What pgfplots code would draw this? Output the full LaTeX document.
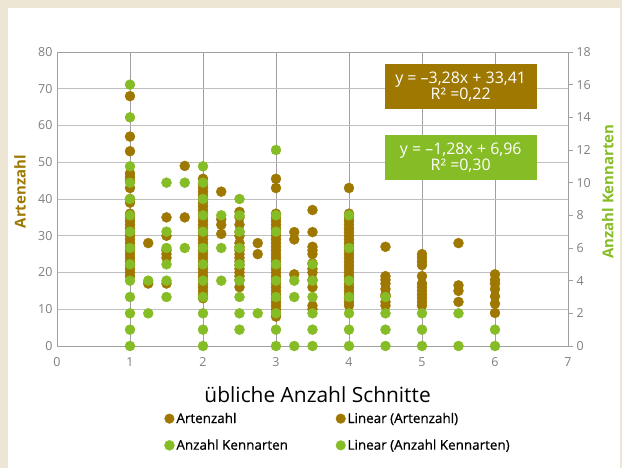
\documentclass[border=0pt]{standalone}
\usepackage{pgfplots}
\pgfplotsset{compat=1.18}
\usepackage{fontspec}
\setmainfont{Open Sans}
\newfontfamily\legfont[FakeBold=0.6]{Open Sans}
\definecolor{brn}{HTML}{9E7800}
\definecolor{grn}{HTML}{86BC25}
\definecolor{beige}{HTML}{EEE6D4}
\definecolor{tickgray}{HTML}{7F7F7F}
\definecolor{gridh}{HTML}{C0C0C0}
\definecolor{gridv}{HTML}{A0A0A0}
\begin{document}
\begin{tikzpicture}
\fill[beige] (0bp,0bp) rectangle (622bp,468bp);
\fill[white] (8bp,0bp) rectangle (620bp,460bp);
\begin{axis}[
  name=ax1,
  at={(57bp,122bp)}, anchor=south west, scale only axis,
  width=511bp, height=294bp,
  xmin=0, xmax=7, ymin=0, ymax=80,
  xtick={0,...,7}, ytick={0,10,...,80},
  xmajorgrids, ymajorgrids,
  x grid style={draw=gridv, line width=0.8pt},
  y grid style={draw=gridh, line width=0.8pt},
  axis line style={draw=gridv, line width=0.8pt},
  major tick length=0pt,
  ticklabel style={font=\fontsize{12.5}{14}\selectfont, text=tickgray},
  /pgf/number format/assume math mode=true,
  xticklabel style={yshift=-8bp},
  yticklabel style={xshift=-1bp},
  ylabel={Artenzahl},
  ylabel style={at={(axis description cs:-0.0724,0.525)}, anchor=center, font=\fontsize{15}{17}\selectfont\bfseries, text=brn},
  xlabel={übliche Anzahl Schnitte},
  xlabel style={at={(axis description cs:0.51,-0.167)}, anchor=center, font=\fontsize{21}{24}\selectfont},
  clip=false,
]
\addplot[only marks, mark=*, mark size=5bp, color=brn] coordinates {
(1,68)(1,57)(1,53)(1,47)(1,46)(1,45)(1,43)(1,40)(1,39)(1,36)(1,35)(1,34)(1,33)(1,32)(1,31)(1,30)(1,29)(1,28)(1,27)(1,26)(1,25)(1,24)(1,23)(1,22)(1,21)(1,20)(1,19)
(1.25,28)(1.25,17)
(1.5,35)(1.5,30)(1.5,26)(1.5,25)(1.5,24)(1.5,17)
(1.75,49)(1.75,35)
(2,45.5)(2,44)(2,43)(2,42)(2,41)(2,40)(2,39)(2,38)(2,37)(2,36)(2,35)(2,34)(2,33)(2,32)(2,31)(2,30)(2,29)(2,28)(2,27)(2,26)(2,25)(2,24)(2,23)(2,22)(2,21)(2,20)(2,19)(2,18)(2,17)(2,16)(2,15)(2,14)(2,13)
(2.25,42)(2.25,34.5)(2.25,33)(2.25,30.5)
(2.5,36.5)(2.5,35)(2.5,33)(2.5,31)(2.5,30)(2.5,28)(2.5,27)(2.5,26)(2.5,25)(2.5,24)(2.5,23)(2.5,22)(2.5,21)(2.5,20)(2.5,19)(2.5,18)(2.5,16)
(2.75,28)(2.75,25)
(3,45.5)(3,43)(3,36)(3,35)(3,34)(3,33)(3,32)(3,31)(3,30)(3,29)(3,28)(3,27)(3,26)(3,25)(3,24)(3,23)(3,22)(3,21)(3,20)(3,19)(3,18)(3,17)(3,16)(3,15)(3,14)(3,13)(3,12)(3,11)(3,10)(3,9)(3,8)
(3.25,31)(3.25,29)(3.25,19.5)
(3.5,37)(3.5,31)(3.5,27)(3.5,26)(3.5,25)(3.5,22.5)(3.5,21)(3.5,20)(3.5,18)(3.5,16)(3.5,11)(3.5,10)
(4,43)(4,36)(4,35)(4,34)(4,33)(4,32)(4,31)(4,30)(4,29)(4,28)(4,27)(4,26)(4,25)(4,24)(4,23)(4,22)(4,21)(4,20)(4,19)(4,18)(4,17)(4,16)(4,15)(4,14)(4,13)(4,12)(4,11)
(4.5,27)(4.5,19)(4.5,18)(4.5,17)(4.5,15.5)(4.5,14)(4.5,13.5)(4.5,12)(4.5,11)
(5,25)(5,24)(5,23)(5,22)(5,19)(5,17)(5,16)(5,15)(5,14)(5,13)(5,12)(5,11)
(5.5,28)(5.5,16.5)(5.5,15)(5.5,12)
(6,19.5)(6,18)(6,17)(6,15.5)(6,13.5)(6,11.5)(6,9)
};
\node[fill=brn, text=white, minimum width=152bp, minimum height=45bp, align=center, inner sep=0pt, font=\fontsize{16}{16}\selectfont] at (axis cs:5.53,70.6) {y = –3,28x + 33,41\\R² =0,22};
\node[fill=grn, text=white, minimum width=152bp, minimum height=45bp, align=center, inner sep=0pt, font=\fontsize{16}{16}\selectfont] at (axis cs:5.53,51.3) {y = –1,28x + 6,96\\R² =0,30};
\end{axis}
\begin{axis}[
  at={(ax1.south west)}, anchor=south west, scale only axis,
  width=511bp, height=294bp,
  xmin=0, xmax=7, ymin=0, ymax=18,
  ytick={0,2,...,18},
  hide x axis,
  axis y line*=right,
  y axis line style={draw=gridv, line width=0.8pt},
  ytick style={draw=gridv, line width=0.8pt},
  tick align=outside, major tick length=5bp,
  ticklabel style={font=\fontsize{12.5}{14}\selectfont, text=tickgray},
  /pgf/number format/assume math mode=true,
  ylabel={Anzahl Kennarten},
  ylabel style={at={(axis description cs:1.078,0.525)}, anchor=center, font=\fontsize{15}{17}\selectfont\bfseries, text=grn},
  clip=false,
  legend columns=2,
  legend style={draw=none, fill=none, at={(axis description cs:0.55,-0.2925)}, anchor=center,
    font=\fontsize{13.5}{15}\selectfont\legfont, row sep=11bp,
    /tikz/column 2/.style={column sep=46bp}},
  legend cell align=left,
]
\addlegendimage{only marks, mark=*, mark size=4.8bp, color=brn}
\addlegendentry{Artenzahl}
\addlegendimage{only marks, mark=*, mark size=4.8bp, color=brn}
\addlegendentry{Linear (Artenzahl)}
\addplot[only marks, mark=*, mark size=5bp, color=grn] coordinates {
(1,0)(1,1)(1,2)(1,3)(1,4)(1,5)(1,6)(1,7)(1,8)(1,9)(1,10)(1,11)(1,14)(1,16)
(1.25,2)(1.25,4)
(1.5,3)(1.5,4)(1.5,5)(1.5,6)(1.5,7)(1.5,10)
(1.75,6)(1.75,10)
(2,0)(2,1)(2,2)(2,3)(2,4)(2,5)(2,6)(2,7)(2,8)(2,9)(2,10)(2,11)
(2.25,4)(2.25,6)(2.25,8)
(2.5,1)(2.5,2)(2.5,3)(2.5,4)(2.5,5)(2.5,6)(2.5,7)(2.5,8)(2.5,9)
(2.75,2)
(3,0)(3,1)(3,2)(3,3)(3,4)(3,5)(3,7)(3,8)(3,12)
(3.25,0)(3.25,3)(3.25,4)
(3.5,0)(3.5,1)(3.5,2)(3.5,3)(3.5,4)(3.5,5)
(4,0)(4,1)(4,2)(4,3)(4,4)(4,6)(4,8)
(4.5,0)(4.5,1)(4.5,2)(4.5,3)
(5,0)(5,1)(5,2)
(5.5,0)(5.5,2)
(6,0)(6,1)
};
\addlegendentry{Anzahl Kennarten}
\addlegendimage{only marks, mark=*, mark size=4.8bp, color=grn}
\addlegendentry{Linear (Anzahl Kennarten)}
\end{axis}
\end{tikzpicture}
\end{document}
